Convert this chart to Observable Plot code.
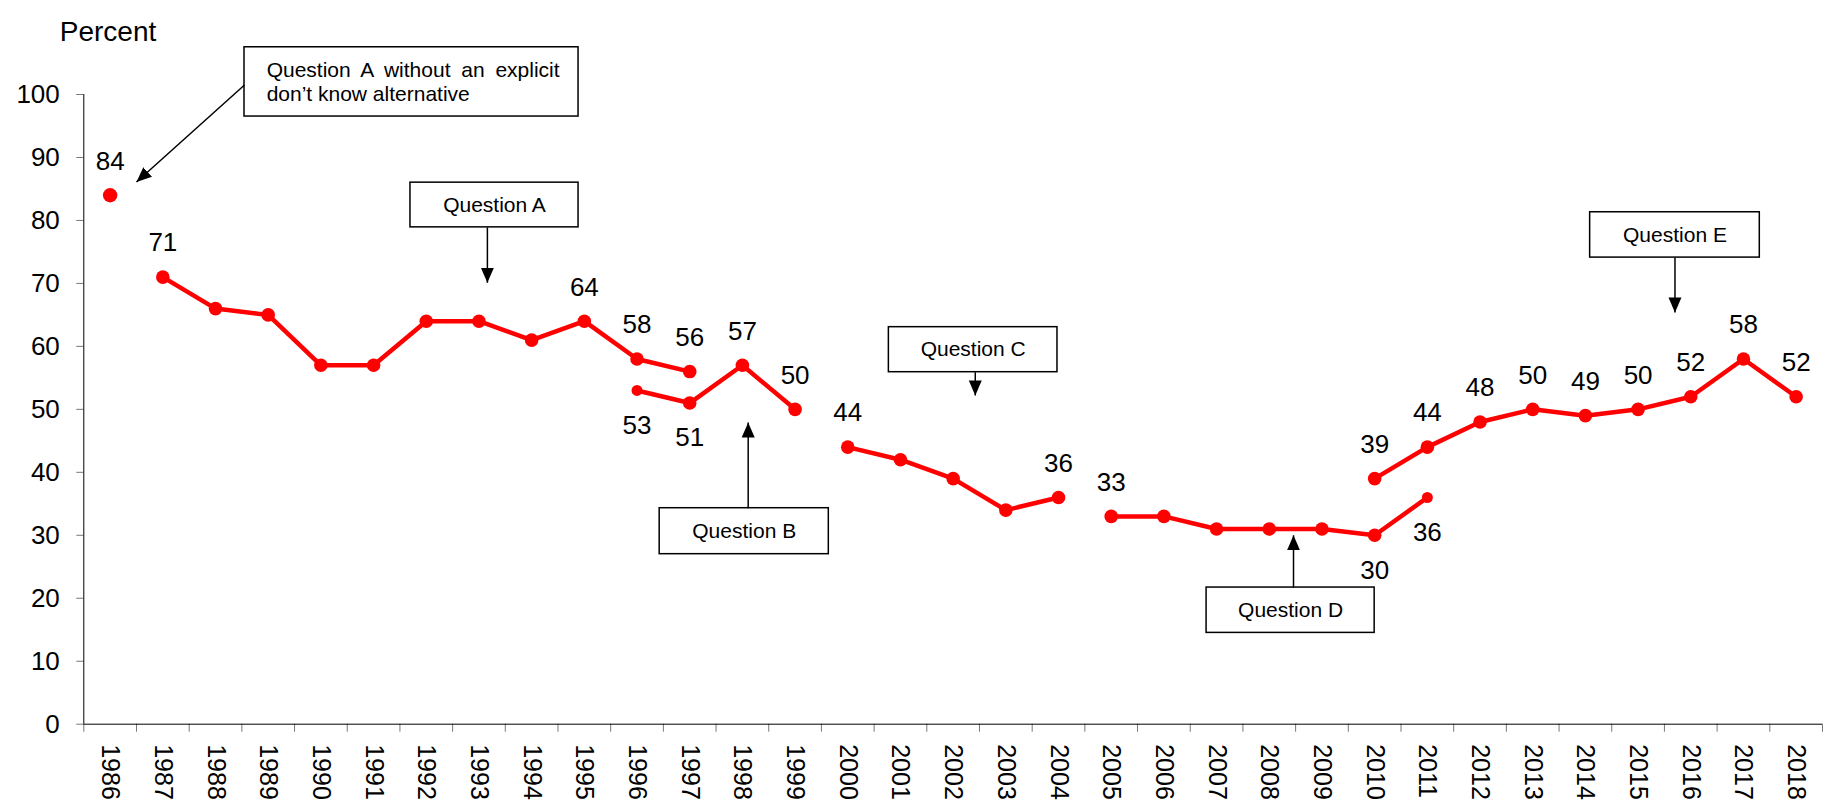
<!DOCTYPE html>
<html>
<head>
<meta charset="utf-8">
<script src="https://cdn.jsdelivr.net/npm/d3@7"></script>
<script src="https://cdn.jsdelivr.net/npm/@observablehq/plot@0.6"></script>
<style>
  html, body { margin: 0; padding: 0; background: #fff; overflow: hidden; color: #000; }
  #chart { width: 1823px; height: 801px; }
</style>
</head>
<body>
<div id="chart"></div>
<script>
// ---------- data ----------
const years = d3.range(1986, 2019);
const yTicks = [0, 10, 20, 30, 40, 50, 60, 70, 80, 90, 100];

const yearsA0 = [1986];
const valuesA0 = [84];
const yearsA = [1987, 1988, 1989, 1990, 1991, 1992, 1993, 1994, 1995, 1996, 1997];
const valuesA = [71, 66, 65, 57, 57, 64, 64, 61, 64, 58, 56];
const yearsB = [1996, 1997, 1998, 1999];
const valuesB = [53, 51, 57, 50];
const yearsC = [2000, 2001, 2002, 2003, 2004];
const valuesC = [44, 42, 39, 34, 36];
const yearsD = [2005, 2006, 2007, 2008, 2009, 2010, 2011];
const valuesD = [33, 33, 31, 31, 31, 30, 36];
const yearsE = [2010, 2011, 2012, 2013, 2014, 2015, 2016, 2017, 2018];
const valuesE = [39, 44, 48, 50, 49, 50, 52, 58, 52];

// value labels shown above / below their points
const labelsAbove = [[1986, 84], [1987, 71], [1995, 64], [1996, 58], [1997, 56], [1998, 57], [1999, 50],
  [2000, 44], [2004, 36], [2005, 33], [2010, 39], [2011, 44], [2012, 48], [2013, 50], [2014, 49],
  [2015, 50], [2016, 52], [2017, 58], [2018, 52]];
const labelsBelow = [[1996, 53], [1997, 51], [2010, 30], [2011, 36]];

// annotation boxes (data coordinates: year, percent)
const boxLabels = ["Question A", "Question B", "Question C", "Question D", "Question E"];
const boxX1 = [1991.7, 1996.43, 2000.78, 2006.81, 2014.09];
const boxX2 = [1994.89, 1999.64, 2003.98, 2010.0, 2017.31];
const boxY1 = [78.9, 27.0, 55.9, 14.5, 74.1];
const boxY2 = [86.0, 34.3, 63.05, 21.7, 81.3];

const noteLines = ["Question A without an explicit", "don\u2019t know alternative"];
const noteBox = {x1: 1988.55, x2: 1994.89, y1: 96.5, y2: 107.5};
const noteLineX = 1988.97;
const noteLineY = [103.8, 100.0];

// arrows (data coordinates)
const arrowX1 = [1993.16, 1998.11, 2002.42, 2008.46, 2015.7, 1988.55];
const arrowY1 = [78.9, 34.3, 55.9, 21.7, 74.1, 101.5];
const arrowX2 = [1993.16, 1998.11, 2002.42, 2008.46, 2015.7, 1986.5];
const arrowY2 = [70.1, 47.9, 52.2, 30.0, 65.4, 86.1];

// ---------- tables ----------
const seriesDefs = [
  ["A", yearsA, valuesA], ["B", yearsB, valuesB], ["C", yearsC, valuesC],
  ["D", yearsD, valuesD], ["E", yearsE, valuesE]
];
const points = seriesDefs.flatMap(([s, ys, vs]) =>
  ys.map((y, i) => ({series: s, year: y, value: vs[i], i, n: ys.length})));
const single = yearsA0.map((y, i) => ({year: y, value: valuesA0[i]}));
const isSmall = d => (d.series === "B" && d.i === 0) || (d.series === "D" && d.i === d.n - 1);
const bigPoints = points.filter(d => !isSmall(d));
const smallPoints = points.filter(isSmall);

const above = labelsAbove.map(([year, value]) => ({year, value}));
const below = labelsBelow.map(([year, value]) => ({year, value}));
const boxes = boxLabels.map((t, i) => ({text: t, x1: boxX1[i], x2: boxX2[i], y1: boxY1[i], y2: boxY2[i]}));
const arrows = arrowX1.map((x, i) => ({x1: x, y1: arrowY1[i], x2: arrowX2[i], y2: arrowY2[i]}));
const notes = noteLines.map((t, i) => ({text: t, x: noteLineX, y: noteLineY[i]}));
const boundaries = d3.range(0, years.length + 1).map(k => years[0] - 0.5 + k);

const RED = "#ff0000";

const svg = Plot.plot({
  width: 1823,
  height: 801,
  marginLeft: 83.3,
  marginRight: 1,
  marginTop: 94,
  marginBottom: 77.3,
  style: {fontFamily: "'Liberation Sans', Arial, sans-serif", background: "#fff", color: "#000"},
  x: {type: "linear", domain: [years[0] - 0.5, years[years.length - 1] + 0.5]},
  y: {domain: [0, 100]},
  marks: [
    Plot.axisY(yTicks, {tickSize: 7, tickPadding: 17, fontSize: 26, stroke: "#777", fill: "#000"}),
    Plot.axisX(boundaries, {tickSize: 8, stroke: "#777", tickFormat: () => ""}),
    Plot.axisX(years, {tickSize: 0, tickPadding: 20, tickRotate: 90, fontSize: 25, fill: "#000", tickFormat: d => String(d)}),
    Plot.ruleX([years[0] - 0.5], {stroke: "#000", strokeWidth: 1}),
    Plot.ruleY([0], {stroke: "#000", strokeWidth: 1}),
    Plot.line(points, {x: "year", y: "value", z: "series", stroke: RED, strokeWidth: 4.5, strokeLinejoin: "round", strokeLinecap: "round"}),
    Plot.dot(bigPoints, {x: "year", y: "value", r: 6.8, fill: RED, stroke: "none"}),
    Plot.dot(smallPoints, {x: "year", y: "value", r: 5.5, fill: RED, stroke: "none"}),
    Plot.dot(single, {x: "year", y: "value", r: 7.2, fill: RED, stroke: "none"}),
    Plot.text(above, {x: "year", y: "value", text: d => String(d.value), dy: -34, fontSize: 26, fill: "#000"}),
    Plot.text(below, {x: "year", y: "value", text: d => String(d.value), dy: 35, fontSize: 26, fill: "#000"}),
    Plot.rect(boxes, {x1: "x1", x2: "x2", y1: "y1", y2: "y2", fill: "#fff", stroke: "#000", strokeWidth: 1.5}),
    Plot.text(boxes, {x: d => (d.x1 + d.x2) / 2, y: d => (d.y1 + d.y2) / 2, text: "text", fontSize: 21, fill: "#000"}),
    Plot.rect([noteBox], {x1: "x1", x2: "x2", y1: "y1", y2: "y2", fill: "#fff", stroke: "#000", strokeWidth: 1.5}),
    Plot.text(notes, {x: "x", y: "y", text: "text", textAnchor: "start", fontSize: 21, fill: "#000"}),
    Plot.link(arrows, {x1: "x1", y1: "y1", x2: "x2", y2: "y2", stroke: "#000", strokeWidth: 1.5, markerEnd: "arrow"}),
    Plot.text(["Percent"], {text: d => d, frameAnchor: "top-left", textAnchor: "start", dx: -24, dy: -73, fontSize: 28, fill: "#000"})
  ]
});

document.getElementById("chart").append(svg);

// filled arrowheads
d3.select(svg).selectAll("marker").each(function () {
  const m = d3.select(this);
  m.attr("viewBox", "-15 -7 16 14")
   .attr("markerWidth", 16).attr("markerHeight", 14)
   .attr("markerUnits", "userSpaceOnUse")
   .attr("refX", 0).attr("refY", 0)
   .attr("orient", "auto")
   .attr("fill", "#000").attr("stroke", "none");
  m.selectAll("*").remove();
  m.append("path").attr("d", "M0,0L-15,-6.5L-15,6.5Z");
});

// justify the first line of the note box
d3.select(svg).selectAll("text").each(function () {
  if (this.textContent === noteLines[0]) {
    const len = this.getComputedTextLength();
    const target = 293;
    const gaps = noteLines[0].split(" ").length - 1;
    if (len < target) this.style.wordSpacing = ((target - len) / gaps) + "px";
  }
});
</script>
</body>
</html>
